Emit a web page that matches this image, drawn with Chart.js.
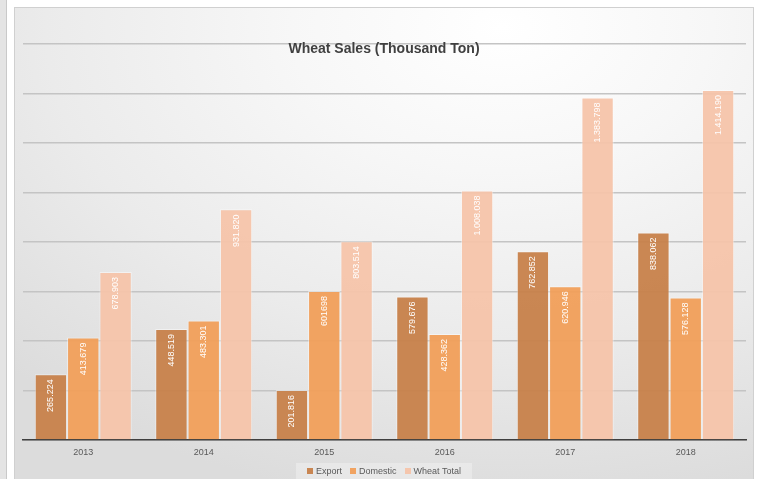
<!DOCTYPE html>
<html lang="en">
<head>
  <meta charset="UTF-8" />
  <title>Wheat Sales</title>
  <script src="https://cdn.jsdelivr.net/npm/chart.js"></script>
  <style>
    html, body {
      margin: 0;
      padding: 0;
      background: #ffffff;
      width: 757px;
      height: 479px;
      overflow: hidden;
      font-family: 'Liberation Sans', 'DejaVu Sans', sans-serif;
    }
    .side-strip {
      position: absolute;
      left: 0; top: 0;
      width: 6px; height: 479px;
      background: #e4e4e4;
      border-right: 1px solid #c9c9c9;
    }
    .frame {
      position: absolute;
      left: 14px; top: 7px;
      width: 738px; height: 480px;
      border: 1px solid #d0d0d0;
      background: radial-gradient(ellipse 95% 100% at 66% 4%, #ffffff 0%, #f7f7f7 30%, #ebebeb 65%, #dcdcdc 100%);
    }
    #wrap {
      position: absolute;
      left: 0; top: 0;
      width: 757px; height: 479px;
    }
    .legend {
      position: absolute;
      left: 296px; top: 463px;
      width: 176px; height: 16px;
      background: rgba(255,255,255,0.3);
      display: flex;
      justify-content: center;
      align-items: center;
      gap: 8px;
      font-size: 9px;
      color: #595959;
    }
    .legend span.box {
      display: inline-block;
      width: 6px; height: 6px;
      margin-right: 3px;
    }
  </style>
</head>
<body>
  <div class="side-strip"></div>
  <div class="frame"></div>
  <div id="wrap"><canvas id="salesChart" width="757" height="479"></canvas></div>
  <div class="legend" id="legend"></div>

  <script>
    const years = ['2013', '2014', '2015', '2016', '2017', '2018'];

    const exportTons   = [265224, 448519, 201816, 579676, 762852, 838062];
    const domesticTons = [413679, 483301, 601698, 428362, 620946, 576128];
    const totalTons    = [678903, 931820, 803514, 1008038, 1383798, 1414190];

    const exportLabels   = ['265.224', '448.519', '201.816', '579.676', '762.852', '838.062'];
    const domesticLabels = ['413.679', '483.301', '601698', '428.362', '620.946', '576.128'];
    const totalLabels    = ['678.903', '931.820', '803.514', '1.008.038', '1.383.798', '1.414.190'];

    const yMax = 1600000;
    const yStep = 200000;

    // value labels written upright inside the top of each bar
    const barLabels = {
      id: 'barLabels',
      afterDatasetsDraw(chart) {
        const ctx = chart.ctx;
        ctx.save();
        ctx.fillStyle = '#ffffff';
        ctx.font = '9px "Liberation Sans", sans-serif';
        ctx.textAlign = 'right';
        ctx.textBaseline = 'middle';
        chart.data.datasets.forEach((ds, i) => {
          chart.getDatasetMeta(i).data.forEach((bar, j) => {
            ctx.save();
            ctx.translate(bar.x, bar.y + 5);
            ctx.rotate(-Math.PI / 2);
            ctx.fillText(ds.valueLabels[j], 0, 0);
            ctx.restore();
          });
        });
        ctx.restore();
      }
    };

    // title sits over the top gridline
    const chartTitle = {
      id: 'chartTitle',
      afterDraw(chart) {
        const ctx = chart.ctx;
        ctx.save();
        ctx.fillStyle = '#404040';
        ctx.font = 'bold 14px "Liberation Sans", sans-serif';
        ctx.textAlign = 'center';
        ctx.textBaseline = 'middle';
        ctx.fillText('Wheat Sales (Thousand Ton)', 384, 49);
        ctx.restore();
      }
    };

    const chart = new Chart(document.getElementById('salesChart'), {
      type: 'bar',
      data: {
        labels: years,
        datasets: [
          { label: 'Export', data: exportTons, valueLabels: exportLabels,
            backgroundColor: 'rgba(199,129,74,0.95)' },
          { label: 'Domestic', data: domesticTons, valueLabels: domesticLabels,
            backgroundColor: 'rgba(241,159,90,0.95)' },
          { label: 'Wheat Total', data: totalTons, valueLabels: totalLabels,
            backgroundColor: 'rgba(245,196,170,0.95)' }
        ]
      },
      options: {
        responsive: false,
        animation: false,
        layout: { padding: { top: 44, left: 23, right: 11, bottom: 0 } },
        datasets: {
          bar: {
            categoryPercentage: 0.805,
            barPercentage: 1,
            borderColor: 'rgba(255,255,255,0.45)',
            borderWidth: 1
          }
        },
        plugins: {
          legend: { display: false },
          title: { display: false },
          tooltip: { enabled: false }
        },
        scales: {
          x: {
            grid: { display: false, drawTicks: false },
            border: { display: true, color: '#3f3f3f', width: 1.5 },
            ticks: { color: '#595959', font: { size: 9, family: 'Liberation Sans' }, padding: 7 },
            afterFit(scale) { scale.height = 39; }
          },
          y: {
            min: 0,
            max: yMax,
            grid: { color: '#c4c4c4', lineWidth: 1.5, drawTicks: false },
            border: { display: false },
            ticks: { display: false, stepSize: yStep },
            afterFit(scale) { scale.width = 0; }
          }
        }
      },
      plugins: [barLabels, chartTitle]
    });

    // legend built from the chart's datasets
    const legendEl = document.getElementById('legend');
    chart.data.datasets.forEach(ds => {
      const item = document.createElement('div');
      item.innerHTML = '<span class="box" style="background:' + ds.backgroundColor + '"></span>' + ds.label;
      legendEl.appendChild(item);
    });
  </script>
</body>
</html>
